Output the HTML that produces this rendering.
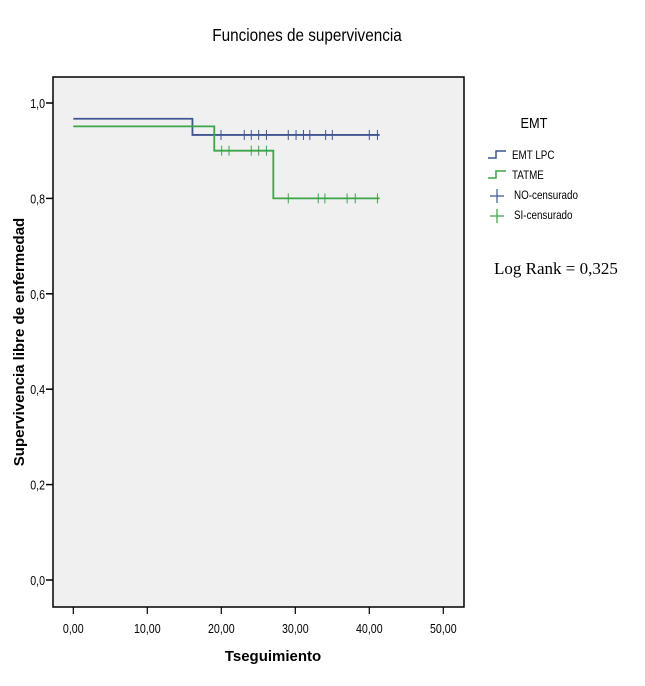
<!DOCTYPE html>
<html><head><meta charset="utf-8"><style>
body{margin:0;background:#fff;width:645px;height:681px;overflow:hidden}
svg text{font-family:"Liberation Sans",sans-serif}
</style></head><body>
<svg width="645" height="681">
<text x="0" y="0" font-size="18" text-anchor="middle" transform="translate(307,41) scale(0.85,1)">Funciones de supervivencia</text>
<rect x="53" y="77" width="411" height="530" fill="#f0f0f0" stroke="#000" stroke-width="1.5"/>
<g id="axes"></g>
<g id="series"></g>
<text x="273" y="661" font-size="15" font-weight="bold" text-anchor="middle">Tseguimiento</text>
<text transform="translate(24,342) rotate(-90)" font-size="15" font-weight="bold" text-anchor="middle">Supervivencia libre de enfermedad</text>
<g>
<text x="0" y="0" font-size="15" text-anchor="middle" transform="translate(534,128) scale(0.85,1)">EMT</text>
<path d="M488,158 H496 V151 H506" fill="none" stroke="#3e5591" stroke-width="1.5"/>
<text x="0" y="0" font-size="12" transform="translate(512,159) scale(0.82,1)">EMT LPC</text>
<path d="M488,178 H496 V171 H506" fill="none" stroke="#3ca449" stroke-width="1.5"/>
<text x="0" y="0" font-size="12" transform="translate(512,179) scale(0.82,1)">TATME</text>
<path d="M490,196 H504 M497,189 V203" stroke="#3e5591" stroke-width="1.2"/>
<text x="0" y="0" font-size="12" transform="translate(514,199) scale(0.82,1)">NO-censurado</text>
<path d="M490,216 H504 M497,209 V223" stroke="#3ca449" stroke-width="1.2"/>
<text x="0" y="0" font-size="12" transform="translate(514,219) scale(0.82,1)">SI-censurado</text>
</g>
<text x="494" y="274" font-size="17" style="font-family:'Liberation Serif',serif">Log Rank = 0,325</text>
</svg>
<script>
const xTicks=[0,10,20,30,40,50];
const xTickLabels=["0,00","10,00","20,00","30,00","40,00","50,00"];
const yTicks=[0,0.2,0.4,0.6,0.8,1.0];
const yTickLabels=["0,0","0,2","0,4","0,6","0,8","1,0"];
const emtTimes=[0,16.1,41.4];
const emtSurv=[0.967,0.933,0.933];
const emtCensor=[19.96,23.1,24.05,25.05,26.1,29.05,30.1,31.1,31.96,34.1,35.0,40.0,41.1];
const tatTimes=[0,19.05,27.03,41.4];
const tatSurv=[0.951,0.9,0.8,0.8];
const tatCensor=[20.05,21.04,24.05,25.05,26.1,29.05,33.1,34.0,37.0,38.1,41.1];
const NS="http://www.w3.org/2000/svg";
const X=t=>73.3+t*7.4, Y=v=>580-v*477;
function mk(tag,attrs,parent){const e=document.createElementNS(NS,tag);for(const k in attrs)e.setAttribute(k,attrs[k]);parent.appendChild(e);return e;}
const ax=document.getElementById('axes'), sr=document.getElementById('series');
xTicks.forEach((t,i)=>{
 const l=mk('line',{x1:X(t),x2:X(t),y1:607,y2:614,stroke:'#000','stroke-width':1.2},ax);
 
 
 const tx=mk('text',{x:0,y:0,'font-size':13,'text-anchor':'middle',transform:'translate('+X(t)+',633) scale(0.82,1)'},ax);tx.textContent=xTickLabels[i];
 
 
});
yTicks.forEach((v,i)=>{
 const l=mk('line',{x1:46,x2:53,y1:Y(v),y2:Y(v),stroke:'#000','stroke-width':1.5},ax);
 
 
 const tx=mk('text',{x:0,y:0,'font-size':13,'text-anchor':'end',transform:'translate(45,'+(Y(v)+5)+') scale(0.82,1)'},ax);tx.textContent=yTickLabels[i];
 
 
});
function stepAt(times,surv,t){let s=surv[0];for(let i=0;i<times.length;i++)if(times[i]<=t)s=surv[i];return s;}
function series(times,surv,cens,color,name){
 let d='M'+X(times[0])+','+Y(surv[0]);
 for(let i=1;i<times.length;i++){d+=' H'+X(times[i])+' V'+Y(surv[i]);}
 const p=mk('path',{d:d,fill:'none',stroke:color,'stroke-width':1.8},sr);
 
 
 cens.forEach(t=>{const y=Y(stepAt(times,surv,t));
  const c=mk('line',{x1:X(t),x2:X(t),y1:y-5,y2:y+5,stroke:color,'stroke-width':1},sr);
  
  });
}
series(emtTimes,emtSurv,emtCensor,'#3e5591','emt-lpc');
series(tatTimes,tatSurv,tatCensor,'#3ca449','tatme');
</script>
</body></html>
